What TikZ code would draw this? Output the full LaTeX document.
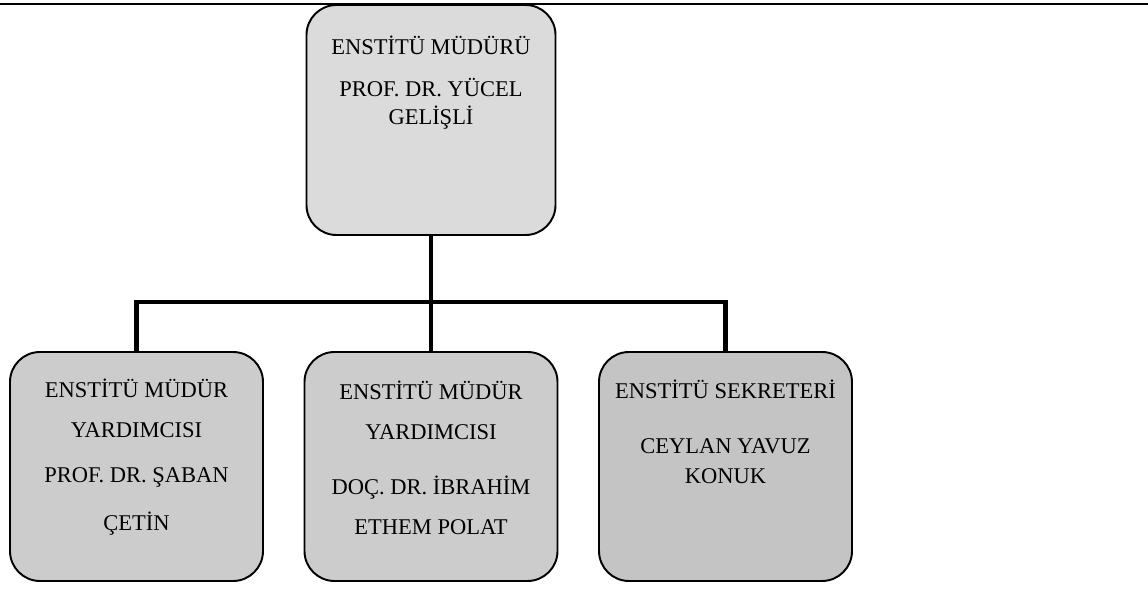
\documentclass[tikz,border=0pt]{standalone}
\usepackage{fontspec}
\setmainfont{Liberation Serif}
\definecolor{ustgri}{gray}{0.86}
\definecolor{altgri}{gray}{0.8}
\definecolor{sekgri}{gray}{0.77}
\newcommand{\ilksatir}[1]{\rule{0pt}{#1}}
\begin{document}
\begin{tikzpicture}[
    grow=down,      % ağaç aşağı doğru büyür
    % seviyeler arası ve kardeşler arası uzaklıklar
    level 1/.style={sibling distance=5.89cm, level distance=6.93cm},
    every node/.style={inner sep=0pt},
    birim/.style={draw, line width=1.1pt, rounded corners=0.6cm,
        minimum width=5.06cm, minimum height=4.58cm, fill=altgri},
    yazi/.style={anchor=north, align=center, font=\fontsize{12.8}{15.9}\selectfont},
    edge from parent/.style={draw, line width=2.8pt}, % kalın bağlantılar
    edge from parent path={(\tikzparentnode.south) -- ++(0,-1.32) -| (\tikzchildnode.north)}
]
\useasboundingbox (0,0) rectangle (22.96,11.78);
% Üst çizgi
\draw[line width=1pt] (0,11.70) -- (22.96,11.70);
% Müdür ve alt birimler
\node[birim, fill=ustgri, minimum width=4.98cm, minimum height=4.6cm] (mudur) at (8.62,9.38) {}
    child { node[birim] (yard1) {} }
    child { node[birim] (yard2) {} }
    child { node[birim, fill=sekgri] (sekreter) {} }
    ;
% Yazılar
\node[yazi] (mudurad) at (mudur.north) {\ilksatir{1cm}ENSTİTÜ MÜDÜRÜ\\[0.28cm]PROF. DR. YÜCEL\\GELİŞLİ};
\node[yazi] (yard1ad) at (yard1.north) {\ilksatir{0.92cm}ENSTİTÜ MÜDÜR\\[0.24cm]YARDIMCISI\\[0.34cm]PROF. DR. ŞABAN\\[0.4cm]ÇETİN};
\node[yazi] (yard2ad) at (yard2.north) {\ilksatir{0.96cm}ENSTİTÜ MÜDÜR\\[0.24cm]YARDIMCISI\\[0.54cm]DOÇ. DR. İBRAHİM\\[0.24cm]ETHEM POLAT};
\node[yazi] (sekreterad) at (sekreter.north) {\ilksatir{0.94cm}ENSTİTÜ SEKRETERİ\\[0.54cm]CEYLAN YAVUZ\\[0.04cm]KONUK};
\end{tikzpicture}
\end{document}
